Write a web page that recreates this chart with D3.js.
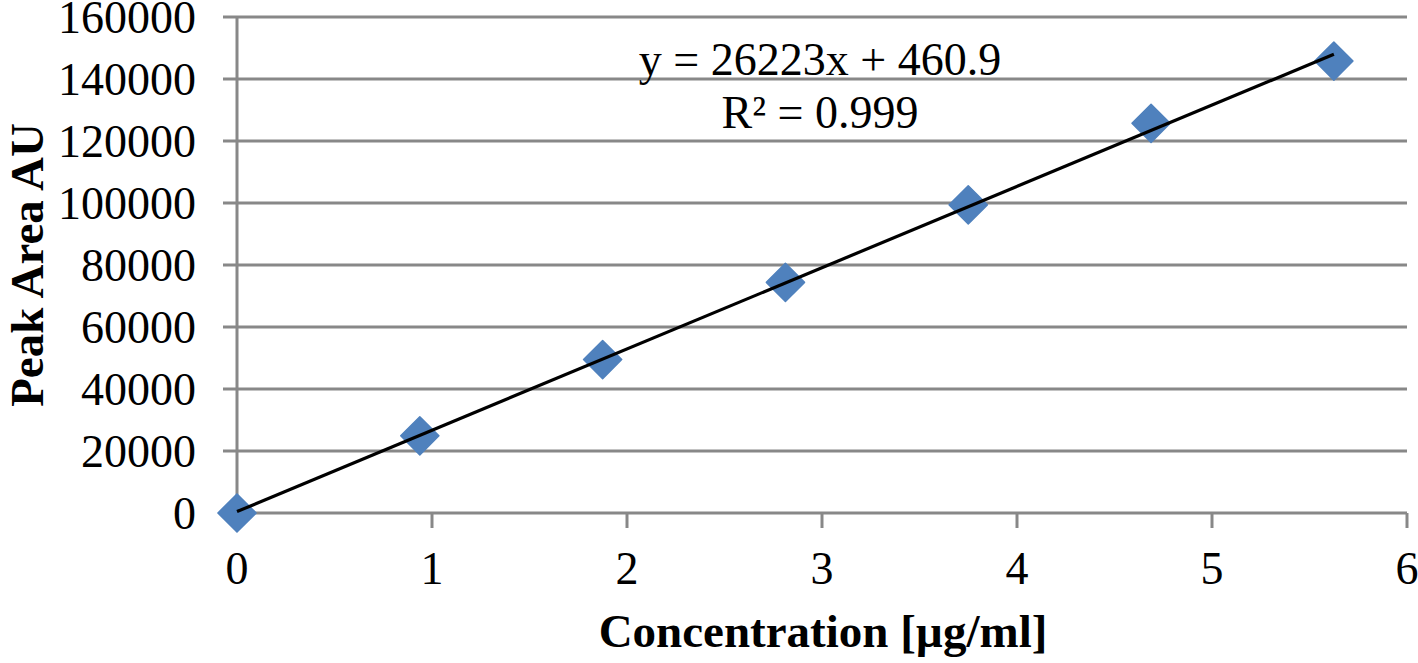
<!DOCTYPE html>
<html><head><meta charset="utf-8">
<script src="https://cdn.jsdelivr.net/npm/d3@7"></script>
<style>html,body{margin:0;padding:0;background:#fff;}svg{display:block;}</style>
</head><body>
<svg id="chart" width="1418" height="663"></svg>
<script>
const concentrations = [0, 0.9375, 1.875, 2.8125, 3.75, 4.6875, 5.625];
const peakAreas = [0, 24900, 49500, 74400, 99400, 125700, 145800];
const xTicks = [0, 1, 2, 3, 4, 5, 6];
const yTicks = [0, 20000, 40000, 60000, 80000, 100000, 120000, 140000, 160000];
const slope = 26223, intercept = 460.9;
const equationLines = ["y = 26223x + 460.9", "R\u00B2 = 0.999"];
const xTitle = "Concentration [\u00B5g/ml]";
const yTitle = "Peak Area AU";

const svg = d3.select("#chart");
const font = "'Liberation Serif','Times New Roman',serif";
const grid = "#888888";
const x = d3.scaleLinear().domain([0, 6]).range([237, 1407]);
const y = d3.scaleLinear().domain([0, 160000]).range([513, 17]);

// horizontal gridlines
svg.append("g").selectAll("line").data(yTicks).join("line")
  .attr("x1", 223).attr("x2", x(6))
  .attr("y1", d => y(d)).attr("y2", d => y(d))
  .attr("stroke", grid).attr("stroke-width", 3);

// y axis line
svg.append("line").attr("x1", x(0)).attr("x2", x(0)).attr("y1", y(160000)).attr("y2", y(0))
  .attr("stroke", grid).attr("stroke-width", 3);

// x axis ticks
svg.append("g").selectAll("line").data(xTicks).join("line")
  .attr("x1", d => x(d)).attr("x2", d => x(d)).attr("y1", y(0)).attr("y2", y(0) + 15)
  .attr("stroke", grid).attr("stroke-width", 3);

// y tick labels
svg.append("g").selectAll("text").data(yTicks).join("text")
  .attr("x", 196).attr("y", d => y(d)).attr("dy", "0.35em")
  .attr("text-anchor", "end").attr("font-family", font).attr("font-size", 46)
  .text(d => d);

// x tick labels
svg.append("g").selectAll("text").data(xTicks).join("text")
  .attr("x", d => x(d)).attr("y", 584)
  .attr("text-anchor", "middle").attr("font-family", font).attr("font-size", 46)
  .text(d => d);

// markers (diamonds)
const sym = d3.symbol().type(d3.symbolSquare).size(27 * 27);
svg.append("g").selectAll("path").data(concentrations.map((c, i) => [c, peakAreas[i]])).join("path")
  .attr("d", sym)
  .attr("transform", d => `translate(${x(d[0])},${y(d[1])}) rotate(45)`)
  .attr("fill", "#4F81BD").attr("stroke", "#4F81BD").attr("stroke-width", 1.5).attr("stroke-linejoin", "round");

// trendline over markers
const xEnd = d3.max(concentrations);
svg.append("line")
  .attr("x1", x(0)).attr("y1", y(intercept))
  .attr("x2", x(xEnd)).attr("y2", y(slope * xEnd + intercept))
  .attr("stroke", "#000").attr("stroke-width", 3.2);

// equation
svg.append("g").selectAll("text").data(equationLines).join("text")
  .attr("x", 820).attr("y", (d, i) => 75 + i * 53)
  .attr("text-anchor", "middle").attr("font-family", font).attr("font-size", 46)
  .text(d => d);

// axis titles
svg.append("text").attr("x", 823).attr("y", 647)
  .attr("text-anchor", "middle").attr("font-family", font).attr("font-size", 47).attr("font-weight", "bold")
  .text(xTitle);
svg.append("text").attr("transform", "translate(43,265) rotate(-90)")
  .attr("text-anchor", "middle").attr("font-family", font).attr("font-size", 47).attr("font-weight", "bold")
  .text(yTitle);
</script>
</body></html>
